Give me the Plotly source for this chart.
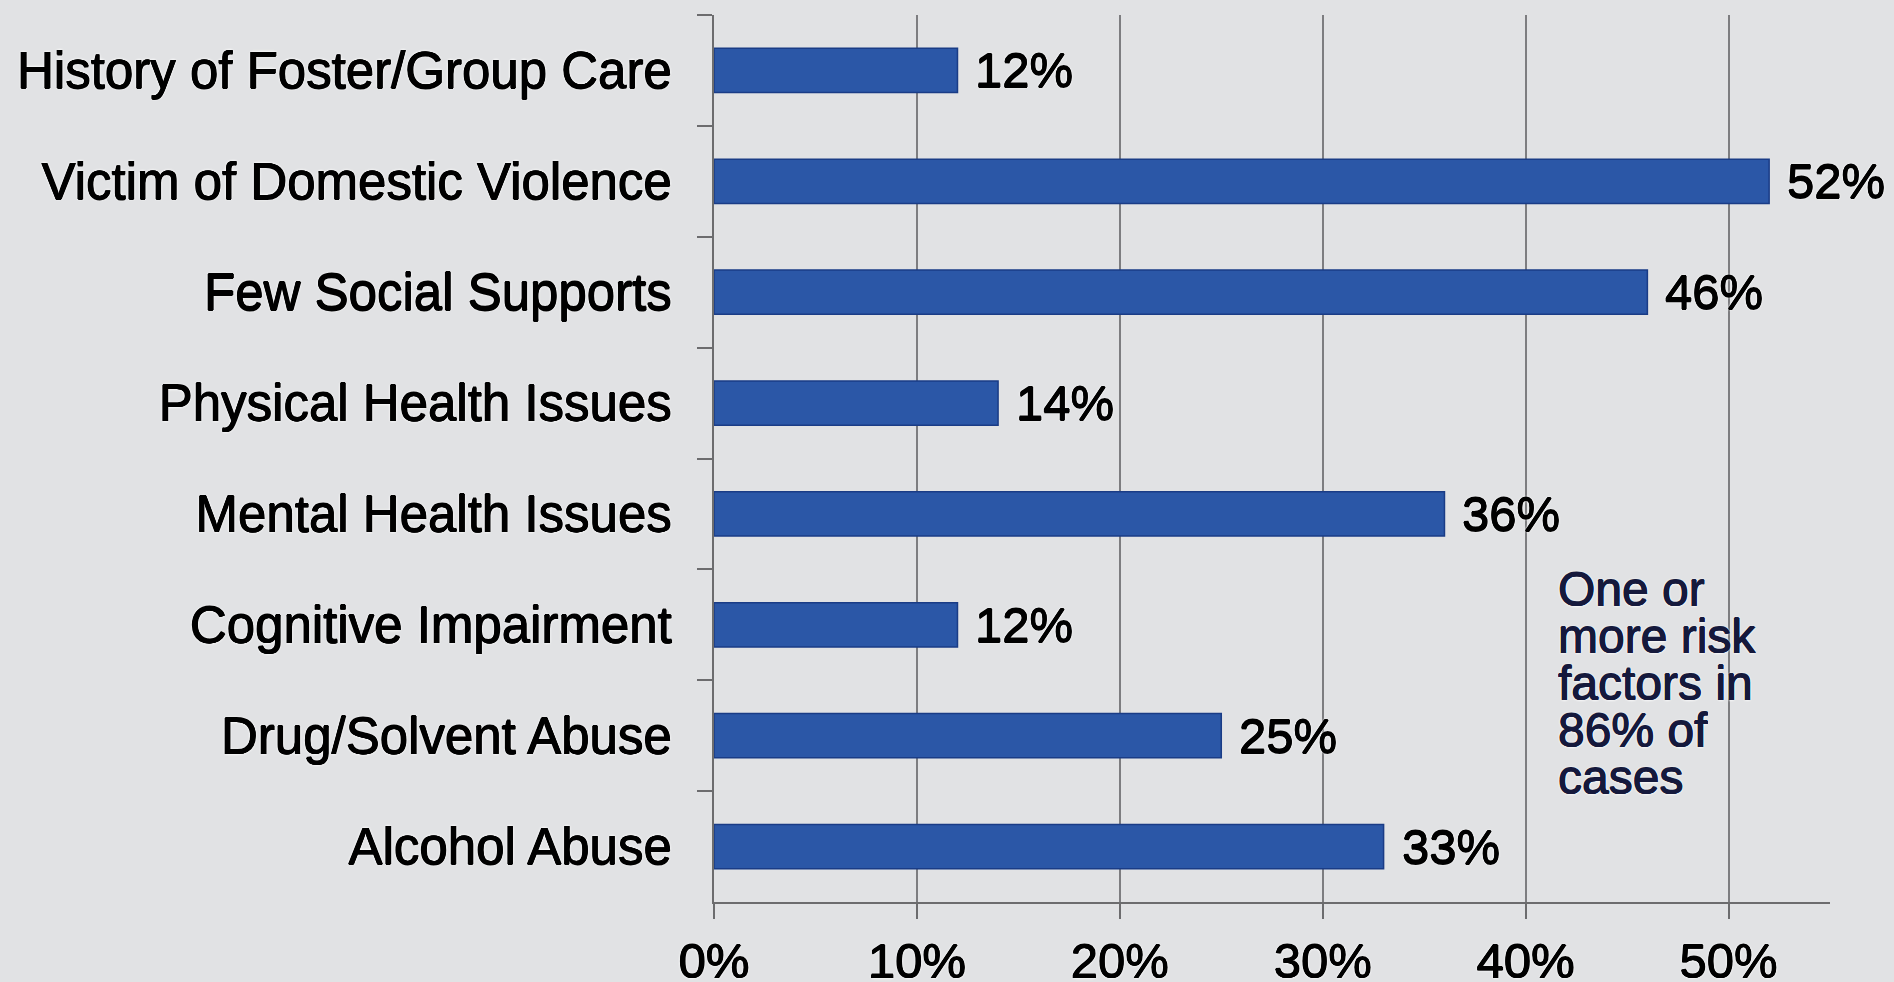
import plotly.graph_objects as go

# Risk factors and share of cases (%)
categories = [
    "History of Foster/Group Care",
    "Victim of Domestic Violence",
    "Few Social Supports",
    "Physical Health Issues",
    "Mental Health Issues",
    "Cognitive Impairment",
    "Drug/Solvent Abuse",
    "Alcohol Abuse",
]
values = [12, 52, 46, 14, 36, 12, 25, 33]

x_tick_values = [0, 10, 20, 30, 40, 50]
x_tick_labels = ["0%", "10%", "20%", "30%", "40%", "50%"]

note_lines = ["One or", "more risk", "factors in", "86% of", "cases"]

FONT = "Liberation Sans, Arial, sans-serif"
BG = "#e1e2e4"
BAR = "#2b57a7"
BAR_EDGE = "#1a3c86"
GRID = "#7d7d80"
AXIS = "#6c6c6e"


def heavy(color):
    # thicken the glyph strokes slightly and add a light halo around them
    d = 0.55
    return (f"{d}px 0 0 {color}, -{d}px 0 0 {color}, 0 {d}px 0 {color}, 0 -{d}px 0 {color}, "
            "0 0 3px #ffffff, 0 0 3px #ffffff")


W, H = 1894, 982
L, R, T, B = 714, 64, 15, 80

fig = go.Figure()
fig.add_trace(go.Bar(
    x=values,
    y=categories,
    orientation="h",
    marker=dict(color=BAR, line=dict(color=BAR_EDGE, width=1.5)),
    hoverinfo="skip",
))

# Value labels just right of each bar
for cat, v in zip(categories, values):
    fig.add_annotation(
        x=v, y=cat, xref="x", yref="y",
        text=f"{v}%", showarrow=False,
        xanchor="left", yanchor="middle", xshift=16,
        font=dict(family=FONT, size=49, color="#000000", shadow=heavy("#000000")),
    )

# Side note, one annotation per line for tight line spacing
plot_h = H - T - B
plot_w = W - L - R
note_left_px = 1556
note_centers_px = [589, 636, 683, 730, 777]
for line, cy in zip(note_lines, note_centers_px):
    fig.add_annotation(
        x=(note_left_px - L) / plot_w, y=(H - B - cy) / plot_h,
        xref="paper", yref="paper",
        text=line, showarrow=False, height=46, valign="middle",
        xanchor="left", yanchor="middle",
        font=dict(family=FONT, size=48, color="#15193c", shadow=heavy("#15193c")),
    )

fig.update_layout(
    width=W, height=H,
    margin=dict(l=L, r=R, t=T, b=B, autoexpand=False),
    paper_bgcolor=BG, plot_bgcolor=BG,
    bargap=0.6,
    showlegend=False,
    font=dict(family=FONT, color="#000000"),
)

fig.update_xaxes(
    range=[0, 55],
    tickvals=x_tick_values, ticktext=x_tick_labels,
    showgrid=True, gridcolor=GRID, gridwidth=2,
    showline=True, linecolor=AXIS, linewidth=2,
    ticks="outside", ticklen=15, tickwidth=2, tickcolor=AXIS,
    ticklabelstandoff=0,
    tickfont=dict(family=FONT, size=49, color="#000000", shadow=heavy("#000000")),
    zeroline=False, automargin=False,
    fixedrange=True,
)
fig.update_yaxes(
    autorange="reversed",
    showline=True, linecolor=AXIS, linewidth=2,
    ticks="outside", tickson="boundaries", ticklen=15, tickwidth=2, tickcolor=AXIS,
    ticklabelstandoff=30,
    tickfont=dict(family=FONT, size=51, color="#000000", shadow=heavy("#000000")),
    showgrid=False, automargin=False,
    fixedrange=True,
)

fig.write_html("out.html", config={"displayModeBar": False})
